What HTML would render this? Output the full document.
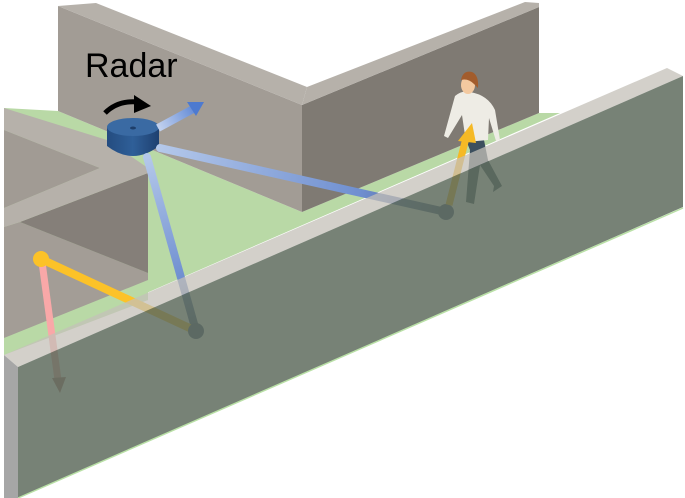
<!DOCTYPE html>
<html><head><meta charset="utf-8"><style>
html,body{margin:0;padding:0;background:#fff;}
svg{display:block;}
</style></head><body>
<svg width="685" height="498" viewBox="0 0 685 498" xmlns="http://www.w3.org/2000/svg">
<defs>
<linearGradient id="r1" x1="160" y1="148" x2="446" y2="212" gradientUnits="userSpaceOnUse">
<stop offset="0" stop-color="#b4c8ea"/><stop offset="0.7" stop-color="#6f8fd0"/><stop offset="1" stop-color="#4a5a80"/></linearGradient>
<linearGradient id="r2" x1="146" y1="157" x2="196" y2="332" gradientUnits="userSpaceOnUse">
<stop offset="0" stop-color="#b4c8ea"/><stop offset="0.7" stop-color="#6f8fd0"/><stop offset="1" stop-color="#4a5a80"/></linearGradient>
<linearGradient id="r3" x1="160" y1="128" x2="203" y2="103" gradientUnits="userSpaceOnUse">
<stop offset="0" stop-color="#c0d0ee"/><stop offset="1" stop-color="#4d7ad0"/></linearGradient>
<linearGradient id="cyl" x1="0" x2="1" y1="0" y2="0">
<stop offset="0" stop-color="#244c80"/><stop offset="0.5" stop-color="#2f5f98"/><stop offset="1" stop-color="#1e4070"/></linearGradient>
</defs>

<polygon points="4,108 58,111 302,212 539,113 560,113 4,355" fill="#b9d9a6"/>

<polygon points="58,6 302,105 302,212 58,111" fill="#a29c95"/>
<polygon points="58,6 96,3 307,87 302,105" fill="#b6b1aa"/>
<polygon points="302,105 539,7 539,113 302,212" fill="#7f7a73"/>
<polygon points="302,105 307,87 525,2 539,3 539,7" fill="#b6b1aa"/>

<polygon points="4,130 100,168 4,208" fill="#a19b94"/>
<polygon points="4,227 20,222 148,273 148,300 4,338" fill="#a39d96"/>
<polygon points="20,222 148,173 148,273" fill="#857f79"/>
<polygon points="4,108 107,140 148,168 148,173 20,222 4,227 4,208 100,168 4,130" fill="#b6b1aa"/>
<polygon points="4,338 148,280 148,300 4,355" fill="#b9d9a6"/>

<path d="M107,127 L107,146 Q133,166 159,146 L159,127 Z" fill="url(#cyl)"/>
<ellipse cx="133" cy="127" rx="26" ry="9" fill="#3a6aa3"/>
<ellipse cx="133" cy="128" rx="3" ry="1.5" fill="#1e3e6a"/>
<path d="M105,113 Q118,100 138,102" stroke="#000" stroke-width="5" fill="none"/>
<polygon points="134,95 151,106 134,113" fill="#000"/>
<text x="85" y="77" font-family="Liberation Sans, sans-serif" font-size="34" fill="#000">Radar</text>
<line x1="158" y1="128" x2="195" y2="108" stroke="url(#r3)" stroke-width="8"/>
<polygon points="187,102 204,102 196,116" fill="#4d7ad0"/>

<path d="M470,150 L466,202 L474,204 L480,165 L494,186 L493,192 L502,186 L488,160 L484,140 L466,140 Z" fill="#3c4f5e"/>
<path d="M455,96 Q462,90 470,92 Q488,95 495,110 L500,140 L496,141 L489,118 L488,140 L466,142 L462,115 L448,138 L444,136 Z" fill="#eeece5"/>
<ellipse cx="468" cy="85" rx="7" ry="9" fill="#f3c9a0"/>
<path d="M461,80 Q463,70 472,72 Q479,75 478,88 L474,84 Q468,78 461,80 Z" fill="#a25c2c"/>

<line x1="160" y1="148" x2="446" y2="212" stroke="url(#r1)" stroke-width="8" stroke-linecap="round"/>
<circle cx="446" cy="212" r="8" fill="#4a5a80"/>
<line x1="147" y1="157" x2="196" y2="331" stroke="url(#r2)" stroke-width="8" stroke-linecap="round"/>
<line x1="41" y1="259" x2="196" y2="331" stroke="#fcc228" stroke-width="8" stroke-linecap="round"/>
<circle cx="196" cy="331" r="8" fill="#4a5a80"/>
<line x1="42" y1="262" x2="58" y2="380" stroke="#f9a8a8" stroke-width="7"/>
<polygon points="52,378 66,377 60,393" fill="#b07575"/>
<circle cx="41" cy="259" r="8" fill="#fcc228"/>
<line x1="449" y1="205" x2="466" y2="138" stroke="#f5b925" stroke-width="7"/>
<polygon points="458,141 472,123 476,143" fill="#f5b925"/>

<polygon points="4,355 667,68 683,76 18,367" fill="rgba(196,192,184,0.75)"/>
<polygon points="18,367 683,76 683,207 18,498" fill="rgba(95,108,94,0.85)"/>
<line x1="18" y1="498" x2="683" y2="208" stroke="#b9e0a6" stroke-width="1.5"/>
<polygon points="4,355 18,367 18,498 4,498" fill="#a6a6a6"/>
</svg>
</body></html>
